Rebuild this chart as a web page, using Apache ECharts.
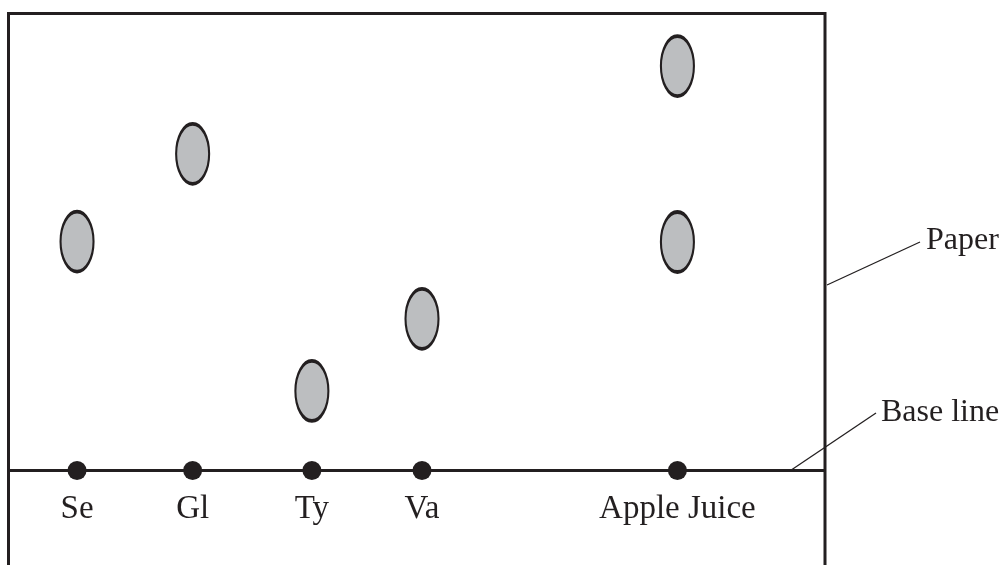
<!DOCTYPE html>
<html>
<head>
<meta charset="utf-8">
<script src="https://cdn.jsdelivr.net/npm/echarts@6/dist/echarts.min.js"></script>
<style>
  html, body { margin: 0; padding: 0; background: #ffffff; }
  #chart { width: 1008px; height: 565px; }
</style>
</head>
<body>
<div id="chart"></div>
<script>
// Lanes (sample names) and their positions along the base line (cm from left paper edge)
var lanes = ['Se', 'Gl', 'Ty', 'Va', 'Apple Juice'];
var lanePositions = [1.5, 4.03, 6.64, 9.05, 14.64];

// Spots: which lane each spot belongs to and distance travelled from the base line (cm)
var spotLanes = ['Se', 'Gl', 'Ty', 'Va', 'Apple Juice', 'Apple Juice'];
var spotDistances = [5.01, 6.93, 1.74, 3.32, 8.85, 5.0];

// Paper extent (cm)
var paperWidth = 17.87;
var paperTop = 10;
var paperBottomVisible = -2.5;

var ink = '#231f20';
var serif = '"Liberation Serif", "DejaVu Serif", serif';

var dotData = lanes.map(function (name, i) {
  return { name: name, value: [lanePositions[i], 0] };
});
var spotData = spotLanes.map(function (lane, i) {
  return { name: lane, value: [lanePositions[lanes.indexOf(lane)], spotDistances[i]] };
});

var chart = echarts.init(document.getElementById('chart'), null, { renderer: 'canvas' });
chart.setOption({
  animation: false,
  backgroundColor: '#ffffff',
  grid: {
    left: 8.5, right: 183, top: 13.5, bottom: -19.75,
    outerBoundsMode: 'none',
    containLabel: false,
    show: true, borderColor: ink, borderWidth: 3, backgroundColor: 'transparent'
  },
  xAxis: {
    type: 'value', min: 0, max: paperWidth,
    axisLine: { show: false }, axisTick: { show: false },
    axisLabel: { show: false }, splitLine: { show: false }
  },
  yAxis: {
    type: 'value', min: paperBottomVisible, max: paperTop,
    axisLine: { show: false }, axisTick: { show: false },
    axisLabel: { show: false }, splitLine: { show: false }
  },
  series: [
    {
      type: 'scatter',
      name: 'spots',
      symbol: 'path://M0,50A50,50,0,1,1,100,50A50,50,0,1,1,0,50Z',
      symbolSize: [33, 60],
      itemStyle: { color: '#bcbec0', borderColor: ink, borderWidth: 2.8, opacity: 1 },
      data: spotData,
      z: 3
    },
    {
      type: 'scatter',
      name: 'origins',
      symbol: 'circle',
      symbolSize: 19,
      itemStyle: { color: ink, opacity: 1 },
      label: {
        show: true,
        position: 'inside',
        offset: [0, 39],
        formatter: '{b}',
        color: ink,
        fontFamily: serif,
        fontSize: 33
      },
      data: dotData,
      markLine: {
        silent: true,
        symbol: ['none', 'none'],
        label: { show: false },
        lineStyle: { color: ink, width: 3, type: 'solid' },
        data: [{ yAxis: 0 }]
      },
      z: 4
    }
  ],
  graphic: [
    { type: 'line', shape: { x1: 827, y1: 285, x2: 920, y2: 242 },
      style: { stroke: ink, lineWidth: 1.3 }, z: 10 },
    { type: 'text', x: 926, y: 241,
      style: { text: 'Paper', fill: ink, font: '32px ' + serif, textVerticalAlign: 'middle', verticalAlign: 'middle' }, z: 10 },
    { type: 'line', shape: { x1: 792, y1: 469.5, x2: 876, y2: 413 },
      style: { stroke: ink, lineWidth: 1.3 }, z: 10 },
    { type: 'text', x: 881, y: 413,
      style: { text: 'Base line', fill: ink, font: '32px ' + serif, textVerticalAlign: 'middle', verticalAlign: 'middle' }, z: 10 }
  ]
});
</script>
</body>
</html>
